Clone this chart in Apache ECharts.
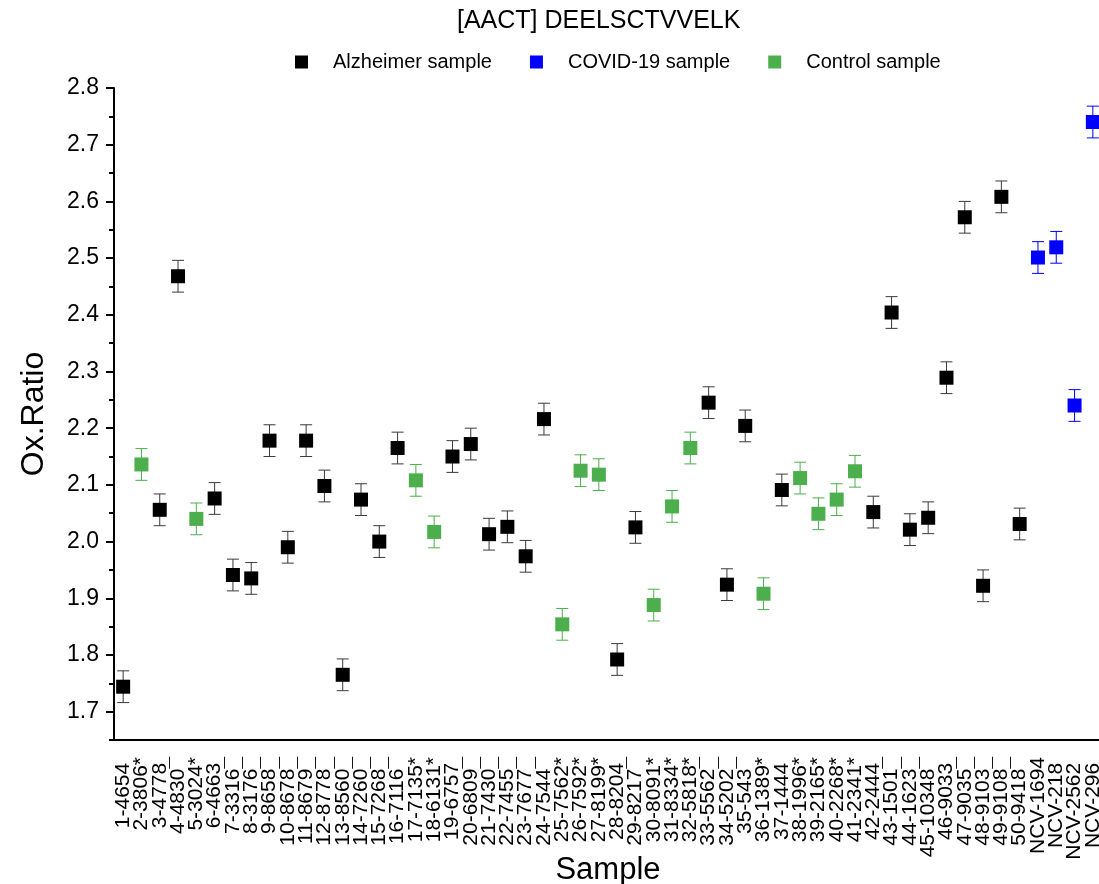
<!DOCTYPE html>
<html>
<head>
<meta charset="utf-8">
<script src="https://cdn.jsdelivr.net/npm/echarts@6/dist/echarts.min.js"></script>
<style>
  html, body { margin: 0; padding: 0; background: #fff; overflow: hidden; }
  #chart { width: 1103px; height: 884px; }
</style>
</head>
<body>
<div id="chart"></div>
<script>
  // sample labels on the x axis (trailing space on the unmarked ones)
  const samples = ['1-4654 ', '2-3806*', '3-4778 ', '4-4830¯', '5-3024*', '6-4663 ', '7-3316¯', '8-3176¯', '9-8658¯', '10-8678¯',
    '11-8679¯', '12-8778¯', '13-8560¯', '14-7260¯', '15-7268¯', '16-7116¯', '17-7135*', '18-6131*', '19-6757 ', '20-6809¯',
    '21-7430¯', '22-7455¯', '23-7677¯', '24-7544¯', '25-7562*', '26-7592*', '27-8199*', '28-8204 ', '29-8217¯', '30-8091*',
    '31-8334*', '32-5818*', '33-5562¯', '34-5202¯', '35-543¯', '36-1389*', '37-1444 ', '38-1996*', '39-2165*', '40-2268*',
    '41-2341*', '42-2444 ', '43-1501¯', '44-1623¯', '45-10348¯', '46-9033 ', '47-9035¯', '48-9103¯', '49-9108¯', '50-9418¯',
    'NCV-1694', 'NCV-218 ', 'NCV-2562 ', 'NCV-296 ']
  // A = Alzheimer, V = COVID-19, C = Control
  const groups = ['A', 'C', 'A', 'A', 'C', 'A', 'A', 'A', 'A', 'A',
    'A', 'A', 'A', 'A', 'A', 'A', 'C', 'C', 'A', 'A',
    'A', 'A', 'A', 'A', 'C', 'C', 'C', 'A', 'A', 'C',
    'C', 'C', 'A', 'A', 'A', 'C', 'A', 'C', 'C', 'C',
    'C', 'A', 'A', 'A', 'A', 'A', 'A', 'A', 'A', 'A',
    'V', 'V', 'V', 'V']
  const ratios = [1.744, 2.136, 2.056, 2.468, 2.040, 2.076, 1.941, 1.935, 2.178, 1.990,
    2.178, 2.098, 1.765, 2.074, 2.000, 2.165, 2.108, 2.017, 2.150, 2.172,
    2.013, 2.026, 1.974, 2.216, 1.854, 2.125, 2.118, 1.792, 2.025, 1.888,
    2.062, 2.165, 2.245, 1.924, 2.204, 1.908, 2.091, 2.112, 2.049, 2.074,
    2.124, 2.052, 2.404, 2.021, 2.042, 2.289, 2.572, 1.922, 2.608, 2.031,
    2.501, 2.519, 2.240, 2.740]
  const errors = [0.028, 0.028, 0.028, 0.028, 0.028, 0.028, 0.028, 0.028, 0.028, 0.028,
    0.028, 0.028, 0.028, 0.028, 0.028, 0.028, 0.028, 0.028, 0.028, 0.028,
    0.028, 0.028, 0.028, 0.028, 0.028, 0.028, 0.028, 0.028, 0.028, 0.028,
    0.028, 0.028, 0.028, 0.028, 0.028, 0.028, 0.028, 0.028, 0.028, 0.028,
    0.028, 0.028, 0.028, 0.028, 0.028, 0.028, 0.028, 0.028, 0.028, 0.028,
    0.028, 0.028, 0.028, 0.028]
  const yTicks = [1.7, 1.8, 1.9, 2.0, 2.1, 2.2, 2.3, 2.4, 2.5, 2.6, 2.7, 2.8]

  const groupInfo = [
    { key: 'A', name: 'Alzheimer sample', color: '#000000', errColor: '#3a3a3a' },
    { key: 'V', name: 'COVID-19 sample', color: '#0000ff', errColor: '#0000ff' },
    { key: 'C', name: 'Control sample', color: '#4cae4c', errColor: '#4cae4c' }
  ]

  const font = 'Liberation Sans, Arial, sans-serif'
  const chart = echarts.init(document.getElementById('chart'))

  const series = []
  groupInfo.forEach(function (g) {
    const pts = []
    const bars = []
    ratios.forEach(function (v, i) {
      if (groups[i] !== g.key) return
      pts.push([i, v])
      bars.push([i, v - errors[i], v + errors[i]])
    })
    // error bars
    series.push({
      name: g.name + ' err',
      type: 'custom',
      z: 2,
      data: bars,
      encode: { x: 0, y: [1, 2] },
      renderItem: function (params, api) {
        const lo = api.coord([api.value(0), api.value(1)])
        const hi = api.coord([api.value(0), api.value(2)])
        const w = 6
        const st = { stroke: g.errColor, lineWidth: 1 }
        return {
          type: 'group',
          children: [
            { type: 'line', shape: { x1: hi[0], y1: hi[1], x2: lo[0], y2: lo[1] }, style: st },
            { type: 'line', shape: { x1: hi[0] - w, y1: hi[1], x2: hi[0] + w, y2: hi[1] }, style: st },
            { type: 'line', shape: { x1: lo[0] - w, y1: lo[1], x2: lo[0] + w, y2: lo[1] }, style: st }
          ]
        }
      }
    })
    series.push({
      name: g.name,
      type: 'scatter',
      z: 3,
      symbol: 'rect',
      symbolSize: 14,
      itemStyle: { color: g.color, opacity: 1 },
      data: pts
    })
  })

  const option = {
    backgroundColor: '#fff',
    animation: false,
    title: {
      text: '[AACT] DEELSCTVVELK',
      left: 452,
      top: 4,
      textStyle: { color: '#000', fontFamily: font, fontSize: 25, fontWeight: 'normal' }
    },
    legend: {
      data: groupInfo.map(function (g) { return { name: g.name, icon: 'rect', itemStyle: { opacity: 1 } } }),
      left: 290,
      top: 47,
      itemWidth: 13,
      itemHeight: 13,
      itemGap: 38,
      textStyle: { color: '#000', fontFamily: font, fontSize: 20, padding: [0, 0, 0, 20] }
    },
    grid: { left: 114, right: 1, top: 88, bottom: 144, containLabel: false, outerBoundsMode: 'none' },
    xAxis: {
      type: 'category',
      data: samples,
      name: 'Sample',
      nameLocation: 'middle',
      nameGap: 115,
      nameMoveOverlap: false,
      nameTextStyle: { color: '#000', fontFamily: font, fontSize: 31 },
      axisLine: { lineStyle: { color: '#000', width: 2 } },
      axisTick: { alignWithLabel: true, length: 8, lineStyle: { color: '#000', width: 2 } },
      axisLabel: { interval: 0, rotate: 90, margin: 17, color: '#000', fontFamily: font, fontSize: 21 },
      splitLine: { show: false }
    },
    yAxis: [{
      type: 'value',
      min: 1.65,
      max: 2.8,
      name: 'Ox.Ratio',
      nameLocation: 'middle',
      nameGap: 64,
      nameMoveOverlap: false,
      nameTextStyle: { color: '#000', fontFamily: font, fontSize: 32 },
      axisLine: { show: true, lineStyle: { color: '#000', width: 2 } },
      axisTick: { show: true, customValues: yTicks, length: 8, lineStyle: { color: '#000', width: 2 } },
      axisLabel: {
        customValues: yTicks, margin: 15, color: '#000', fontFamily: font, fontSize: 23,
        formatter: function (v) { return v.toFixed(1) }
      },
      splitLine: { show: false }
    }, {
      // minor ticks
      type: 'value',
      min: 1.65,
      max: 2.8,
      interval: 0.05,
      position: 'left',
      offset: 0,
      axisLine: { show: false },
      axisTick: { show: true, length: 5, lineStyle: { color: '#000', width: 2 } },
      axisLabel: { show: false },
      splitLine: { show: false }
    }],
    series: series
  }
  chart.setOption(option)
</script>
</body>
</html>
